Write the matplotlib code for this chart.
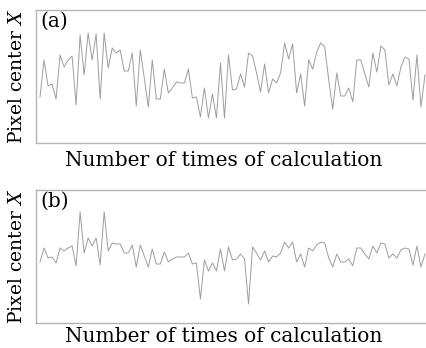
#!/usr/bin/env python3
"""Pixel center X over repeated calculations, before (a) and after (b)."""
import matplotlib
matplotlib.use("Agg")
import matplotlib.pyplot as plt
import numpy as np

# values (arbitrary units, no ticks shown)
center_a = [46, 83, 57, 59, 44, 88, 76, 83, 87, 38, 108, 68, 110, 83, 109, 44,
            110, 75, 95, 90, 93, 72, 72, 90, 37, 93, 65, 36, 83, 44, 44, 74,
            50, 55, 61, 60, 60, 74, 45, 46, 26, 55, 25, 49, 25, 80, 25, 88,
            53, 54, 69, 56, 90, 87, 70, 51, 79, 50, 64, 60, 70, 100, 84, 99,
            50, 69, 37, 83, 74, 91, 100, 96, 63, 34, 70, 47, 47, 55, 41, 83,
            83, 69, 56, 90, 71, 97, 93, 58, 69, 57, 76, 86, 84, 43, 88, 36, 68]
center_b = [61, 75, 65, 66, 60, 75, 72, 75, 77, 57, 111, 70, 85, 77, 85, 58,
            111, 72, 80, 79, 79, 70, 70, 78, 56, 78, 67, 56, 74, 59, 59, 71,
            61, 64, 66, 66, 66, 70, 59, 60, 24, 63, 52, 60, 52, 74, 52, 76,
            63, 64, 69, 64, 19, 76, 70, 63, 72, 61, 67, 66, 70, 81, 75, 81,
            61, 69, 56, 75, 72, 78, 81, 80, 65, 56, 69, 61, 61, 64, 57, 75,
            75, 69, 64, 77, 70, 80, 79, 65, 69, 65, 73, 75, 74, 58, 77, 56, 69]
panel_tags = ["(a)", "(b)"]
x_label = "Number of times of calculation"
y_label = "Pixel center $X$"

plt.rcParams["font.family"] = "DejaVu Serif"
plt.rcParams["mathtext.fontset"] = "dejavuserif"

W, H = 426, 348
fig = plt.figure(figsize=(W / 100, H / 100), dpi=100)

# axes boxes in pixels: (left, top, right, bottom)
boxes = [(36, 10, 431, 143), (36, 190, 431, 323)]
label_y = [160, 337]
fs = 14.5

for series, tag, (l, t, r, b), ly in zip([center_a, center_b], panel_tags, boxes, label_y):
    ax = fig.add_axes([l / W, 1 - b / H, (r - l) / W, (b - t) / H])
    idx = np.arange(len(series))
    ax.plot(idx, series, color="#a09c9c", linewidth=0.7)
    ax.set_xlim(-1, 97.5)
    ax.set_ylim(0, 133)
    ax.set_xticks([])
    ax.set_yticks([])
    for side in ("top", "bottom", "left"):
        ax.spines[side].set_color("#b4b4b4")
        ax.spines[side].set_linewidth(1.0)
    ax.spines["right"].set_visible(False)
    fig.text(40 / W, 1 - (t + 2) / H, tag, fontsize=fs, ha="left", va="top")
    fig.text(224 / W, 1 - ly / H, x_label, fontsize=fs, ha="center", va="center")
    fig.text(17 / W, 1 - (t + b) / 2 / H, y_label, fontsize=13.5, rotation=90,
             ha="center", va="center")

fig.savefig("out.png", dpi=100)
